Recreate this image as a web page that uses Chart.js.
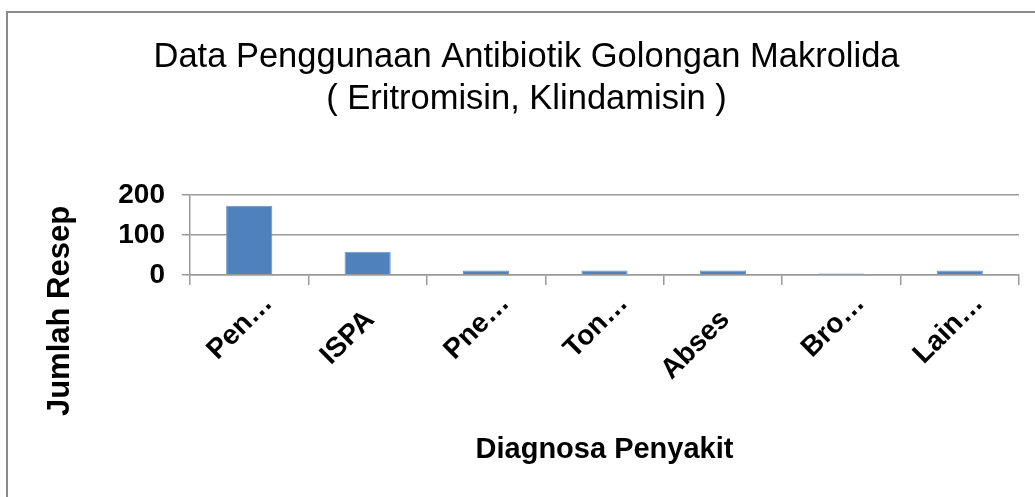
<!DOCTYPE html>
<html lang="id">
<head>
    <meta charset="UTF-8">
    <title>Data Penggunaan Antibiotik Golongan Makrolida</title>
    <script src="https://cdn.jsdelivr.net/npm/chart.js"></script>
    <style>
        body {
            margin: 0;
            width: 1035px;
            height: 497px;
            overflow: hidden;
            background: #fff;
            font-family: "Liberation Sans", Arial, sans-serif;
        }
        .frame {
            position: absolute;
            left: 6px;
            top: 11px;
            width: 1100px;
            height: 600px;
            border-top: 2px solid #8a8a8a;
            border-left: 2px solid #8a8a8a;
        }
        #chart {
            position: absolute;
            left: 0;
            top: 0;
        }
    </style>
</head>
<body>
    <div class="frame"></div>
    <canvas id="chart" width="1035" height="497"></canvas>

    <script>
        // values
        const diagnosa = ['Pen…', 'ISPA', 'Pne…', 'Ton…', 'Abses', 'Bro…', 'Lain…'];
        const jumlahResep = [173, 58, 11, 11, 11, 4, 11];
        const yTicks = [0, 100, 200];

        const titleLines = ['Data Penggunaan Antibiotik Golongan Makrolida', '( Eritromisin, Klindamisin )'];
        const xTitle = 'Diagnosa Penyakit';
        const yTitle = 'Jumlah Resep';

        const gridColor = '#9a9a9a';
        const fontFamily = '"Liberation Sans", Arial, sans-serif';

        // y axis title sits lower than the plot middle, so draw it separately
        const yTitlePlugin = {
            id: 'yTitle',
            afterDraw(chart) {
                const ctx = chart.ctx;
                ctx.save();
                ctx.translate(60, 311);
                ctx.rotate(-Math.PI / 2);
                ctx.font = 'bold 31px ' + fontFamily;
                ctx.fillStyle = '#000';
                ctx.textAlign = 'center';
                ctx.textBaseline = 'middle';
                ctx.fillText(yTitle, 0, 0);
                ctx.restore();
            }
        };

        new Chart(document.getElementById('chart'), {
            type: 'bar',
            data: {
                labels: diagnosa,
                datasets: [{
                    label: yTitle,
                    data: jumlahResep,
                    backgroundColor: '#4f81bd',
                    borderColor: '#6a95c8',
                    borderWidth: 1,
                    barPercentage: 0.39,
                    categoryPercentage: 1.0
                }]
            },
            options: {
                responsive: false,
                animation: false,
                layout: {
                    padding: { left: 34, right: 16, top: 0, bottom: 0 }
                },
                plugins: {
                    legend: { display: false },
                    tooltip: { enabled: false },
                    title: {
                        display: true,
                        text: titleLines,
                        color: '#000',
                        font: { family: fontFamily, size: 34.5, weight: 'normal', lineHeight: 1.2 },
                        padding: { top: 37, bottom: 75 }
                    }
                },
                scales: {
                    x: {
                        offset: true,
                        grid: {
                            offset: true,
                            drawOnChartArea: false,
                            tickLength: 10,
                            color: gridColor,
                            lineWidth: 1.5
                        },
                        border: { display: true, color: gridColor, width: 1.5 },
                        ticks: {
                            autoSkip: false,
                            maxRotation: 45,
                            minRotation: 45,
                            padding: 2,
                            labelOffset: 19,
                            color: '#000',
                            font: { family: fontFamily, size: 28, weight: 'bold' },
                            // full-length labels sit a bit lower along the slant than the shortened ones
                            callback(value, i) {
                                const s = diagnosa[i];
                                return s.endsWith('…') ? s : s + '   ';
                            }
                        },
                        title: {
                            display: true,
                            text: xTitle,
                            color: '#000',
                            font: { family: fontFamily, size: 29, weight: 'bold', lineHeight: 1.2 },
                            padding: { top: 30, bottom: 30 }
                        },
                        afterFit(scale) {
                            scale.height = 222;
                        }
                    },
                    y: {
                        min: 0,
                        max: 200,
                        afterBuildTicks(scale) {
                            scale.ticks = yTicks.map(v => ({ value: v }));
                        },
                        grid: {
                            tickLength: 8,
                            color: gridColor,
                            lineWidth: 1.5
                        },
                        border: { display: true, color: gridColor, width: 1.5 },
                        ticks: {
                            padding: 17,
                            color: '#000',
                            font: { family: fontFamily, size: 28, weight: 'bold' }
                        },
                        afterFit(scale) {
                            scale.width = 156;
                        }
                    }
                }
            },
            plugins: [yTitlePlugin]
        });
    </script>
</body>
</html>
